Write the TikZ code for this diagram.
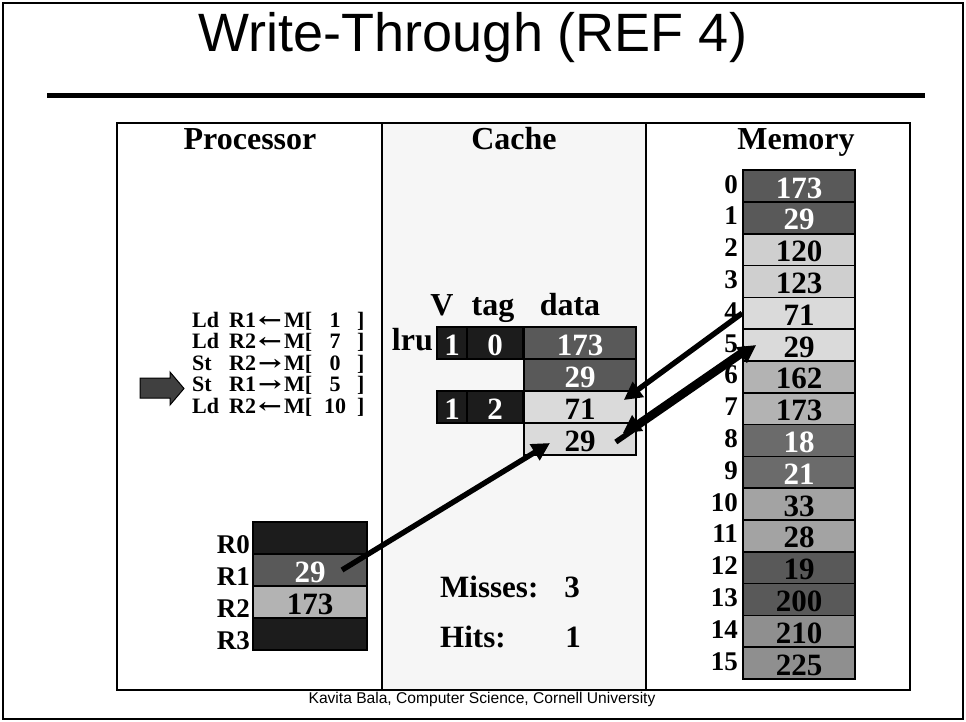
\documentclass[tikz,border=0pt]{standalone}
\usepackage{fontspec}
\setmainfont{Liberation Serif}
\newfontfamily\arialfont{Liberation Sans}
\newfontfamily\arrowfont{DejaVu Serif}
\usetikzlibrary{arrows.meta}
\definecolor{cellK}{HTML}{1C1C1C}
\definecolor{cellD}{HTML}{595959}
\definecolor{cellMD}{HTML}{6B6B6B}
\definecolor{cellMG}{HTML}{8F8F8F}
\definecolor{cellG}{HTML}{A3A3A3}
\definecolor{cellM}{HTML}{B3B3B3}
\definecolor{cellL}{HTML}{CFCFCF}
\definecolor{cellLL}{HTML}{DADADA}
\definecolor{ptrG}{HTML}{404040}
\definecolor{panelG}{HTML}{F6F6F6}

\begin{document}
\begin{tikzpicture}[x=1pt, y=-1pt,
  cell/.style={draw=black, line width=1.6pt, inner sep=0pt, minimum height=32pt,
    text height=24pt, text depth=0pt, font=\fontsize{31}{31}\selectfont\bfseries},
  lbl/.style={anchor=base east, inner sep=0pt, font=\fontsize{27}{27}\selectfont\bfseries},
  hdr/.style={anchor=base, inner sep=0pt, font=\fontsize{32}{32}\selectfont\bfseries},
  instr/.style={anchor=base west, inner sep=0pt, font=\fontsize{22}{22}\selectfont\bfseries},
  panel/.style={draw=black, line width=2.5pt},
  wire/.style={line width=5.4pt, -{Triangle[length=18pt,width=18pt]}}]
  \useasboundingbox (0,0) rectangle (966,721);
  % slide frame, title and rule
  \draw[line width=1.5pt] (3,3) rectangle (963,719);
  \node[anchor=base, inner sep=0pt, font=\arialfont\fontsize{54}{54}\selectfont]
    (title) at (473,51) {Write-Through (REF 4)};
  \draw[line width=5pt] (47,95) -- (925,95);
  % three panels
  \fill[panelG] (382,123) rectangle (646,690);
  \draw[panel] (117,123) rectangle (382,690);
  \draw[panel] (382,123) rectangle (646,690);
  \draw[panel] (646,123) rectangle (910,690);
  \node[hdr] (hproc) at (250,149) {Processor};
  \node[hdr] (hcache) at (514,149) {Cache};
  \node[hdr] (hmem) at (796,149) {Memory};
  % instructions
  \foreach \k/\op/\rg/\ar/\n in {%
    0/Ld/R1/←/1,
    1/Ld/R2/←/7,
    2/St/R2/→/0,
    3/St/R1/→/5,
    4/Ld/R2/←/10}{
    \pgfmathsetmacro\yy{327+21.5*\k}
    \node[instr] (op\k) at (192,\yy) {\op};
    \node[instr] (rg\k) at (229,\yy) {\rg};
    \node[instr, anchor=base, font=\arrowfont\fontsize{21}{21}\selectfont\bfseries] (ar\k) at (270,\yy) {\scalebox{1.35}[1]{\ar}};
    \node[instr] (mb\k) at (284,\yy) {M[};
    \node[instr, anchor=base] (ad\k) at (335,\yy) {\n};
    \node[instr] (cb\k) at (357,\yy) {]};
  }
  % current instruction pointer
  \filldraw[fill=ptrG, draw=black, line width=1pt]
    (140,378) -- (170,378) -- (170,372) -- (184,388.5) -- (170,405)
    -- (170,398) -- (140,398) -- cycle;
  % registers
  \foreach \k/\v/\c/\t in {0//cellK/white, 1/29/cellD/white, 2/173/cellM/black, 3//cellK/white}{
    \pgfmathsetmacro\yy{538+32*\k}
    \node[cell, minimum width=114pt, fill=\c, text=\t] (r\k) at (310,\yy) {\v};
    \node[lbl] (rl\k) at (250,\yy+15) {R\k};
  }
  % cache
  \node[hdr] (hv) at (442,315) {V};
  \node[hdr] (htag) at (493,315) {tag};
  \node[hdr] (hdata) at (570,315) {data};
  \node[lbl, font=\fontsize{32}{32}\selectfont\bfseries] (lru) at (433,350) {lru};
  \node[cell, minimum width=30pt, fill=cellK, text=white] (v1) at (452,343) {1};
  \node[cell, minimum width=56pt, fill=cellK, text=white] (t1) at (495,343) {0};
  \node[cell, minimum width=112pt, fill=cellD, text=white] (c1) at (580,343) {173};
  \node[cell, minimum width=112pt, fill=cellD, text=white] (c2) at (580,375) {29};
  \node[cell, minimum width=30pt, fill=cellK, text=white] (v3) at (452,407) {1};
  \node[cell, minimum width=56pt, fill=cellK, text=white] (t3) at (495,407) {2};
  \node[cell, minimum width=112pt, fill=cellLL] (c3) at (580,407) {71};
  \node[cell, minimum width=112pt, fill=cellLL] (c4) at (580,439) {29};
  % counters
  \node[instr, font=\fontsize{31}{31}\selectfont\bfseries] (miss) at (440,597) {Misses:};
  \node[instr, anchor=base, font=\fontsize{31}{31}\selectfont\bfseries] (missn) at (572,597) {3};
  \node[instr, font=\fontsize{31}{31}\selectfont\bfseries] (hits) at (440,647) {Hits:};
  \node[instr, anchor=base, font=\fontsize{31}{31}\selectfont\bfseries] (hitsn) at (573,647) {1};
  % memory
  \foreach \a/\v/\c/\t in {%
    0/173/cellD/white, 1/29/cellD/white, 2/120/cellL/black, 3/123/cellL/black,
    4/71/cellLL/black, 5/29/cellLL/black, 6/162/cellM/black, 7/173/cellM/black,
    8/18/cellMD/white, 9/21/cellMD/white, 10/33/cellG/black, 11/28/cellG/black,
    12/19/cellD/black, 13/200/cellD/black, 14/210/cellMG/black, 15/225/cellMG/black}{
    \pgfmathsetmacro\yy{186+31.8*\a}
    \node[cell, minimum width=112pt, minimum height=31.8pt, fill=\c, text=\t] (m\a) at (799,\yy) {\v};
    \node[lbl] (ml\a) at (738,\yy+7) {\a};
  }
  % data movement
  \draw[wire] ([xshift=32pt]r1.center) -- ([xshift=-30pt,yshift=-4pt]c4.center);
  \draw[wire] (m4.west) -- ([xshift=-13pt,yshift=7pt]c3.east);
  \draw[wire] ([xshift=-21pt,yshift=-3pt]c4.east) -- ([xshift=14pt]m5.west);
  \draw[wire] ([xshift=4pt,yshift=-3pt]m5.west) -- ([xshift=-14pt,yshift=-11pt]c4.north east);
  % footer
  \node[anchor=base, inner sep=0pt, font=\arialfont\fontsize{15.6}{15.6}\selectfont]
    (foot) at (482,703) {Kavita Bala, Computer Science, Cornell University};
\end{tikzpicture}
\end{document}
